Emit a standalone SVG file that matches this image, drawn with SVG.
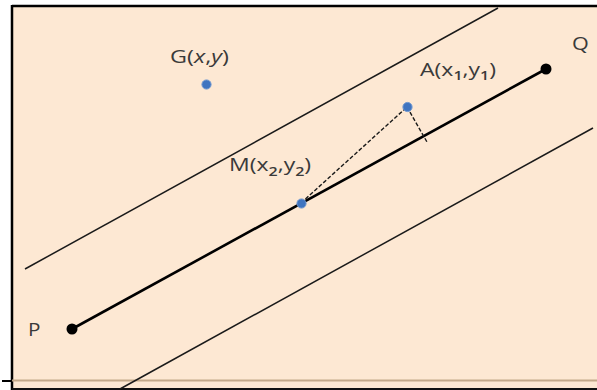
<svg xmlns="http://www.w3.org/2000/svg" width="597" height="390" viewBox="0 0 597 390">
  <style>
    .lbl { font-family: "Open Sans", "Liberation Sans", sans-serif; font-size: 18px; fill: #3a3a3a; }
    .sub { font-size: 12.5px; font-weight: 600; }
    .thin { stroke: #1a1a1a; stroke-width: 1.5; fill: none; }
    .dash { stroke: #1a1a1a; stroke-width: 1.4; stroke-dasharray: 4 2; fill: none; }
    .bdot { fill: #3f74c0; stroke: #6f97d0; stroke-width: 1; }
    .kdot { fill: #000; }
  </style>
  <rect x="0" y="0" width="597" height="390" fill="#ffffff"/>
  <rect x="12" y="6" width="585" height="384" fill="#fde8d3"/>
  <g id="frame">
    <line x1="12" y1="6" x2="597" y2="6" stroke="#000" stroke-width="2.5"/>
    <line x1="12" y1="5" x2="12" y2="390" stroke="#000" stroke-width="2.5"/>
    <line x1="12" y1="380.5" x2="597" y2="380.5" stroke="#c4a98a" stroke-width="2"/>
    <line x1="12" y1="389" x2="597" y2="389" stroke="#111" stroke-width="2"/>
    <line x1="2" y1="381" x2="12" y2="381" stroke="#000" stroke-width="2"/>
  </g>
  <g id="connectors">
    <line class="thin" x1="25" y1="269" x2="498" y2="8"/>
    <line class="thin" x1="120" y1="389" x2="593" y2="128"/>
    <line x1="72" y1="329" x2="546" y2="69" stroke="#000" stroke-width="2.6"/>
    <line class="dash" x1="301" y1="203" x2="407" y2="107"/>
    <line class="dash" x1="407" y1="107" x2="427" y2="142"/>
  </g>
  <g id="P">
    <circle class="kdot" cx="72" cy="329" r="5.5"/>
    <text class="lbl" transform="translate(28,336) scale(1.15,1)">P</text>
  </g>
  <g id="Q">
    <circle class="kdot" cx="546" cy="69" r="5.5"/>
    <text class="lbl" transform="translate(572,50) scale(1.2,1)">Q</text>
  </g>
  <g id="G">
    <circle class="bdot" cx="206.5" cy="84.5" r="4.6"/>
    <text class="lbl" transform="translate(170,62.5) scale(1.3,1)">G(<tspan font-style="italic">x</tspan>,<tspan font-style="italic">y</tspan>)</text>
  </g>
  <g id="A">
    <circle class="bdot" cx="407.5" cy="107" r="4.6"/>
    <text class="lbl" transform="translate(420,76) scale(1.28,1)">A(x<tspan class="sub" dy="4">1</tspan><tspan dy="-4">,y</tspan><tspan class="sub" dy="4">1</tspan><tspan dy="-4">)</tspan></text>
  </g>
  <g id="M">
    <circle class="bdot" cx="301.5" cy="203.5" r="4.6"/>
    <text class="lbl" transform="translate(229,171) scale(1.28,1)">M(x<tspan class="sub" dy="5">2</tspan><tspan dy="-5">,y</tspan><tspan class="sub" dy="5">2</tspan><tspan dy="-5">)</tspan></text>
  </g>
</svg>
